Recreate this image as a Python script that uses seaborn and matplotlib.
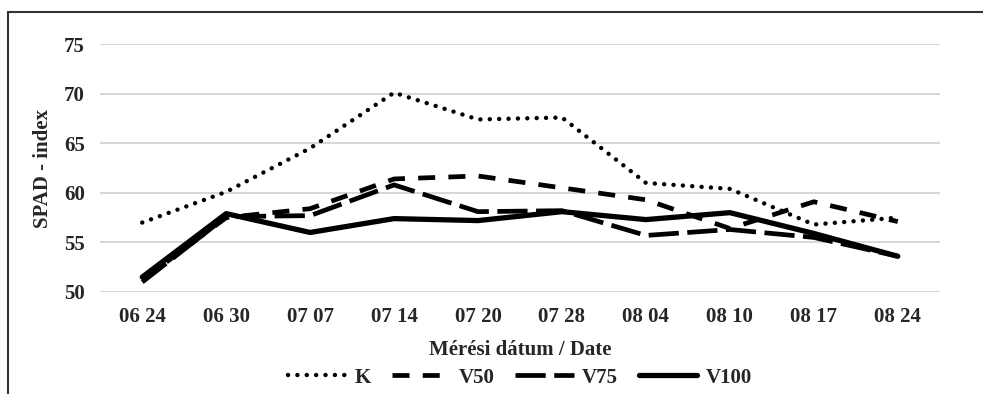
import pandas as pd
import seaborn as sns
import matplotlib.pyplot as plt
from matplotlib.patches import Rectangle
from matplotlib.lines import Line2D

# adatok (leolvasva az ábráról)
datumok = ['06 24', '06 30', '07 07', '07 14', '07 20', '07 28', '08 04', '08 10', '08 17', '08 24']
K = [57.0, 60.1, 64.5, 70.1, 67.4, 67.6, 61.0, 60.4, 56.8, 57.5]
V50 = [51.2, 57.5, 58.4, 61.4, 61.7, 60.5, 59.3, 56.4, 59.1, 57.1]
V75 = [51.0, 57.6, 57.7, 60.8, 58.1, 58.2, 55.7, 56.3, 55.5, 53.6]
V100 = [51.5, 57.9, 56.0, 57.4, 57.2, 58.1, 57.3, 58.0, 55.9, 53.6]

sorozatok = {'K': K, 'V50': V50, 'V75': V75, 'V100': V100}
df = pd.DataFrame([
    {'datum': d, 'kezeles': nev, 'spad': v}
    for nev, ertekek in sorozatok.items()
    for d, v in zip(datumok, ertekek)
])

sns.set_style('white')
plt.rcParams['font.family'] = ['Liberation Serif', 'DejaVu Serif']
plt.rcParams['font.weight'] = 'bold'

fig, ax = plt.subplots(figsize=(9.83, 3.94), dpi=100)
fig.subplots_adjust(left=0.102, right=0.956, top=0.888, bottom=0.259)

stilusok = {
    'K': dict(lw=3.2, dashes=(0.01, 2.1), cap='round'),
    'V50': dict(lw=3.4, dashes=(3.6, 2.8), cap='butt'),
    'V75': dict(lw=3.4, dashes=(6.4, 1.8), cap='butt'),
    'V100': dict(lw=3.8, dashes=None, cap='butt'),
}

fogantyuk = []
for nev in sorozatok:
    st = stilusok[nev]
    sub = df[df['kezeles'] == nev]
    sns.lineplot(data=sub, x='datum', y='spad', ax=ax, color='black',
                 lw=st['lw'], sort=False)
    ln = ax.get_lines()[-1]
    h = Line2D([0], [0], color='black', lw=st['lw'])
    if st['dashes']:
        for obj in (ln, h):
            obj.set_dashes(st['dashes'])
            obj.set_dash_capstyle(st['cap'])
    fogantyuk.append(h)

ax.set_xlim(-0.5, len(datumok) - 0.5)
ax.set_ylim(50, 75)
ax.set_yticks([50, 55, 60, 65, 70, 75])
ax.grid(axis='y', color='#d0d0d0', lw=1.2)
ax.grid(axis='x', visible=False)
for s in ax.spines.values():
    s.set_visible(False)
ax.tick_params(axis='both', length=0, labelsize=15, pad=11)
for t in ax.get_xticklabels() + ax.get_yticklabels():
    t.set_fontweight('bold')

ax.set_xlabel('Mérési dátum / Date', fontsize=15, fontweight='bold', labelpad=9)
ax.set_ylabel('SPAD - index', fontsize=15, fontweight='bold', labelpad=8)

ax.legend(fogantyuk, list(sorozatok.keys()), loc='upper center',
          bbox_to_anchor=(0.5, -0.255), ncol=4, frameon=False,
          borderpad=0.1, handlelength=2.8, columnspacing=1.0, handletextpad=0.4,
          prop={'size': 15, 'weight': 'bold'})

# keret az ábra körül
fig.patches.append(Rectangle((8 / 983, -0.1), 1.2, (394 - 12) / 394 + 0.1,
                             transform=fig.transFigure, fill=False,
                             edgecolor='#333333', lw=1.5))

plt.savefig('out.png', dpi=100)
